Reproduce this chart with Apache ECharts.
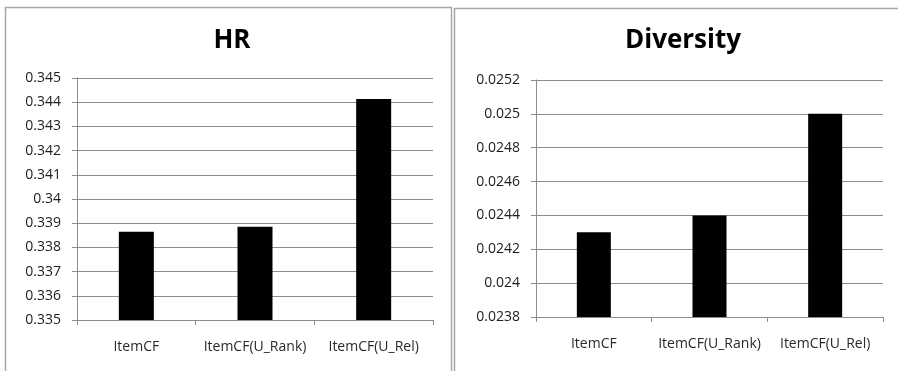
<!DOCTYPE html>
<html>
<head>
<meta charset="utf-8">
<script src="https://cdn.jsdelivr.net/npm/echarts@6/dist/echarts.min.js"></script>
<style>
  html, body { margin: 0; padding: 0; background: #fff; }
  #chart { width: 898px; height: 371px; }
</style>
</head>
<body>
<div id="chart"></div>
<script>
// Categories shared by both panels
const categories = ['ItemCF', 'ItemCF(U_Rank)', 'ItemCF(U_Rel)'];

// Hit rate per method
const hrValues = [0.33865, 0.33885, 0.34413];
const hrTicks = { min: 0.335, max: 0.345, interval: 0.001 };

// Diversity per method
const diversityValues = [0.0243, 0.0244, 0.0250];
const diversityTicks = { min: 0.0238, max: 0.0252, interval: 0.0002 };

const FONT = 'Open Sans';
const gridLineColor = '#8c8c8c';

function valueAxis(gridIndex, ticks, decimals) {
  return {
    type: 'value', gridIndex,
    min: ticks.min, max: ticks.max, interval: ticks.interval,
    axisLine: { show: true, lineStyle: { color: gridLineColor, width: 1 } },
    axisTick: { show: true, length: 5, lineStyle: { color: gridLineColor } },
    splitLine: { show: true, lineStyle: { color: gridLineColor, width: 1 } },
    axisLabel: {
      margin: 16, color: '#1c1c1c', fontFamily: FONT, fontSize: 14,
      formatter: v => String(parseFloat(v.toFixed(decimals)))
    }
  };
}

function categoryAxis(gridIndex) {
  return {
    type: 'category', gridIndex, data: categories,
    axisLine: { show: true, lineStyle: { color: gridLineColor, width: 1 } },
    axisTick: { show: true, length: 5, lineStyle: { color: gridLineColor } },
    axisLabel: { margin: 20, color: '#2a2a2a', fontFamily: FONT, fontSize: 14, interval: 0 }
  };
}

const chart = echarts.init(document.getElementById('chart'), null, { renderer: 'canvas' });
chart.setOption({
  animation: false,
  backgroundColor: '#fff',
  title: [
    { text: 'HR', left: 227, top: 23, textAlign: 'center',
      textStyle: { fontFamily: FONT, fontWeight: 'bold', fontSize: 26, color: '#000' } },
    { text: 'Diversity', left: 678, top: 23, textAlign: 'center',
      textStyle: { fontFamily: FONT, fontWeight: 'bold', fontSize: 26, color: '#000' } }
  ],
  grid: [
    { left: 77, right: 465, top: 78, bottom: 51 },
    { left: 536, right: 15, top: 80, bottom: 54 }
  ],
  xAxis: [categoryAxis(0), categoryAxis(1)],
  yAxis: [valueAxis(0, hrTicks, 3), valueAxis(1, diversityTicks, 4)],
  series: [
    { type: 'bar', xAxisIndex: 0, yAxisIndex: 0, data: hrValues, barWidth: 35,
      itemStyle: { color: '#000' } },
    { type: 'bar', xAxisIndex: 1, yAxisIndex: 1, data: diversityValues, barWidth: 34,
      itemStyle: { color: '#000' } }
  ],
  graphic: [
    // panel frames
    { type: 'rect', shape: { x: 5.5, y: 7.5, width: 446, height: 380 },
      style: { fill: null, stroke: '#a6a6a6', lineWidth: 1.5 }, z: 100 },
    { type: 'rect', shape: { x: 454.5, y: 8.5, width: 460, height: 380 },
      style: { fill: null, stroke: '#a6a6a6', lineWidth: 1.5 }, z: 100 }
  ]
});
</script>
</body>
</html>
